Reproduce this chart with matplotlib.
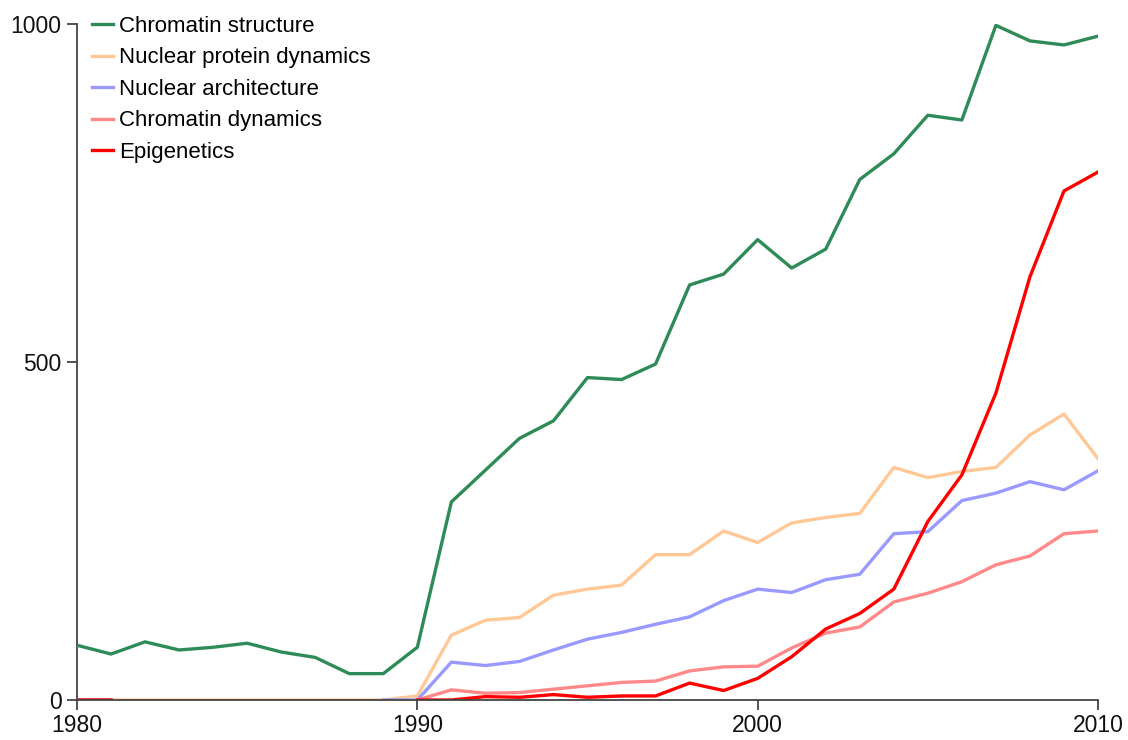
import numpy as np
import matplotlib
matplotlib.use("Agg")
import matplotlib.pyplot as plt

plt.rcParams['font.family'] = ['Liberation Sans', 'DejaVu Sans']

years = list(range(1980, 2011))
nan = np.nan

chromatin_structure = [81, 68, 86, 74, 78, 84, 71, 63, 39, 39,
                       78, 293, 340, 387, 413, 477, 474, 497, 614, 630,
                       681, 639, 667, 770, 808, 865, 858, 998, 975, 969, 982]
nuclear_protein_dynamics = [nan, 0, 0, 0, 0, 0, 0, 0, 0, 0,
                            6, 96, 118, 122, 155, 164, 170, 215, 215, 250,
                            233, 262, 270, 276, 344, 329, 338, 344, 392, 423, 357]
nuclear_architecture = [0, 0, nan, nan, nan, nan, nan, nan, nan, 0,
                        0, 56, 51, 57, 74, 90, 100, 112, 123, 147,
                        164, 159, 178, 186, 246, 249, 295, 306, 323, 311, 339]
chromatin_dynamics = [0, 0, nan, nan, nan, nan, nan, nan, nan, nan,
                      0, 15, 10, 11, 16, 21, 26, 28, 43, 49,
                      50, 77, 99, 108, 145, 158, 175, 200, 213, 246, 250]
epigenetics = [0, 0, nan, nan, nan, nan, nan, nan, nan, nan,
               0, 0, 5, 4, 8, 4, 6, 6, 25, 14,
               32, 64, 105, 128, 164, 264, 333, 454, 626, 753, 781]

series = [
    ("Chromatin structure", chromatin_structure, "#2e8b57"),
    ("Nuclear protein dynamics", nuclear_protein_dynamics, "#ffc896"),
    ("Nuclear architecture", nuclear_architecture, "#9999ff"),
    ("Chromatin dynamics", chromatin_dynamics, "#ff8888"),
    ("Epigenetics", epigenetics, "#ff0000"),
]

xticks = [1980, 1990, 2000, 2010]
yticks = [0, 500, 1000]

fig = plt.figure(figsize=(11.28, 7.4), dpi=100)
ax = fig.add_axes([77/1128, 1 - 700/740, (1098-77)/1128, (700-24)/740])

for name, vals, col in series:
    ax.plot(years, vals, color=col, lw=2.4, label=name, solid_joinstyle='round')

ax.set_xlim(1980, 2010)
ax.set_ylim(0, 1000)
ax.set_xticks(xticks)
ax.set_yticks(yticks)
ax.tick_params(labelsize=16.5, length=7, width=1.3, color='#444444', labelcolor='#111111')
ax.tick_params(axis='y', pad=4)
ax.tick_params(axis='x', pad=3)
for s in ['top', 'right']:
    ax.spines[s].set_visible(False)
for s in ['left', 'bottom']:
    ax.spines[s].set_color('#444444')
    ax.spines[s].set_linewidth(1.3)
ax.spines['left'].set_zorder(0)

fig.legend(loc='upper left', bbox_to_anchor=(92/1128, 1 - 16/740), frameon=False,
           fontsize=16, handlelength=0.95, handletextpad=0.25, labelspacing=0.47,
           borderpad=0, borderaxespad=0)

fig.savefig("out.png", dpi=100)
